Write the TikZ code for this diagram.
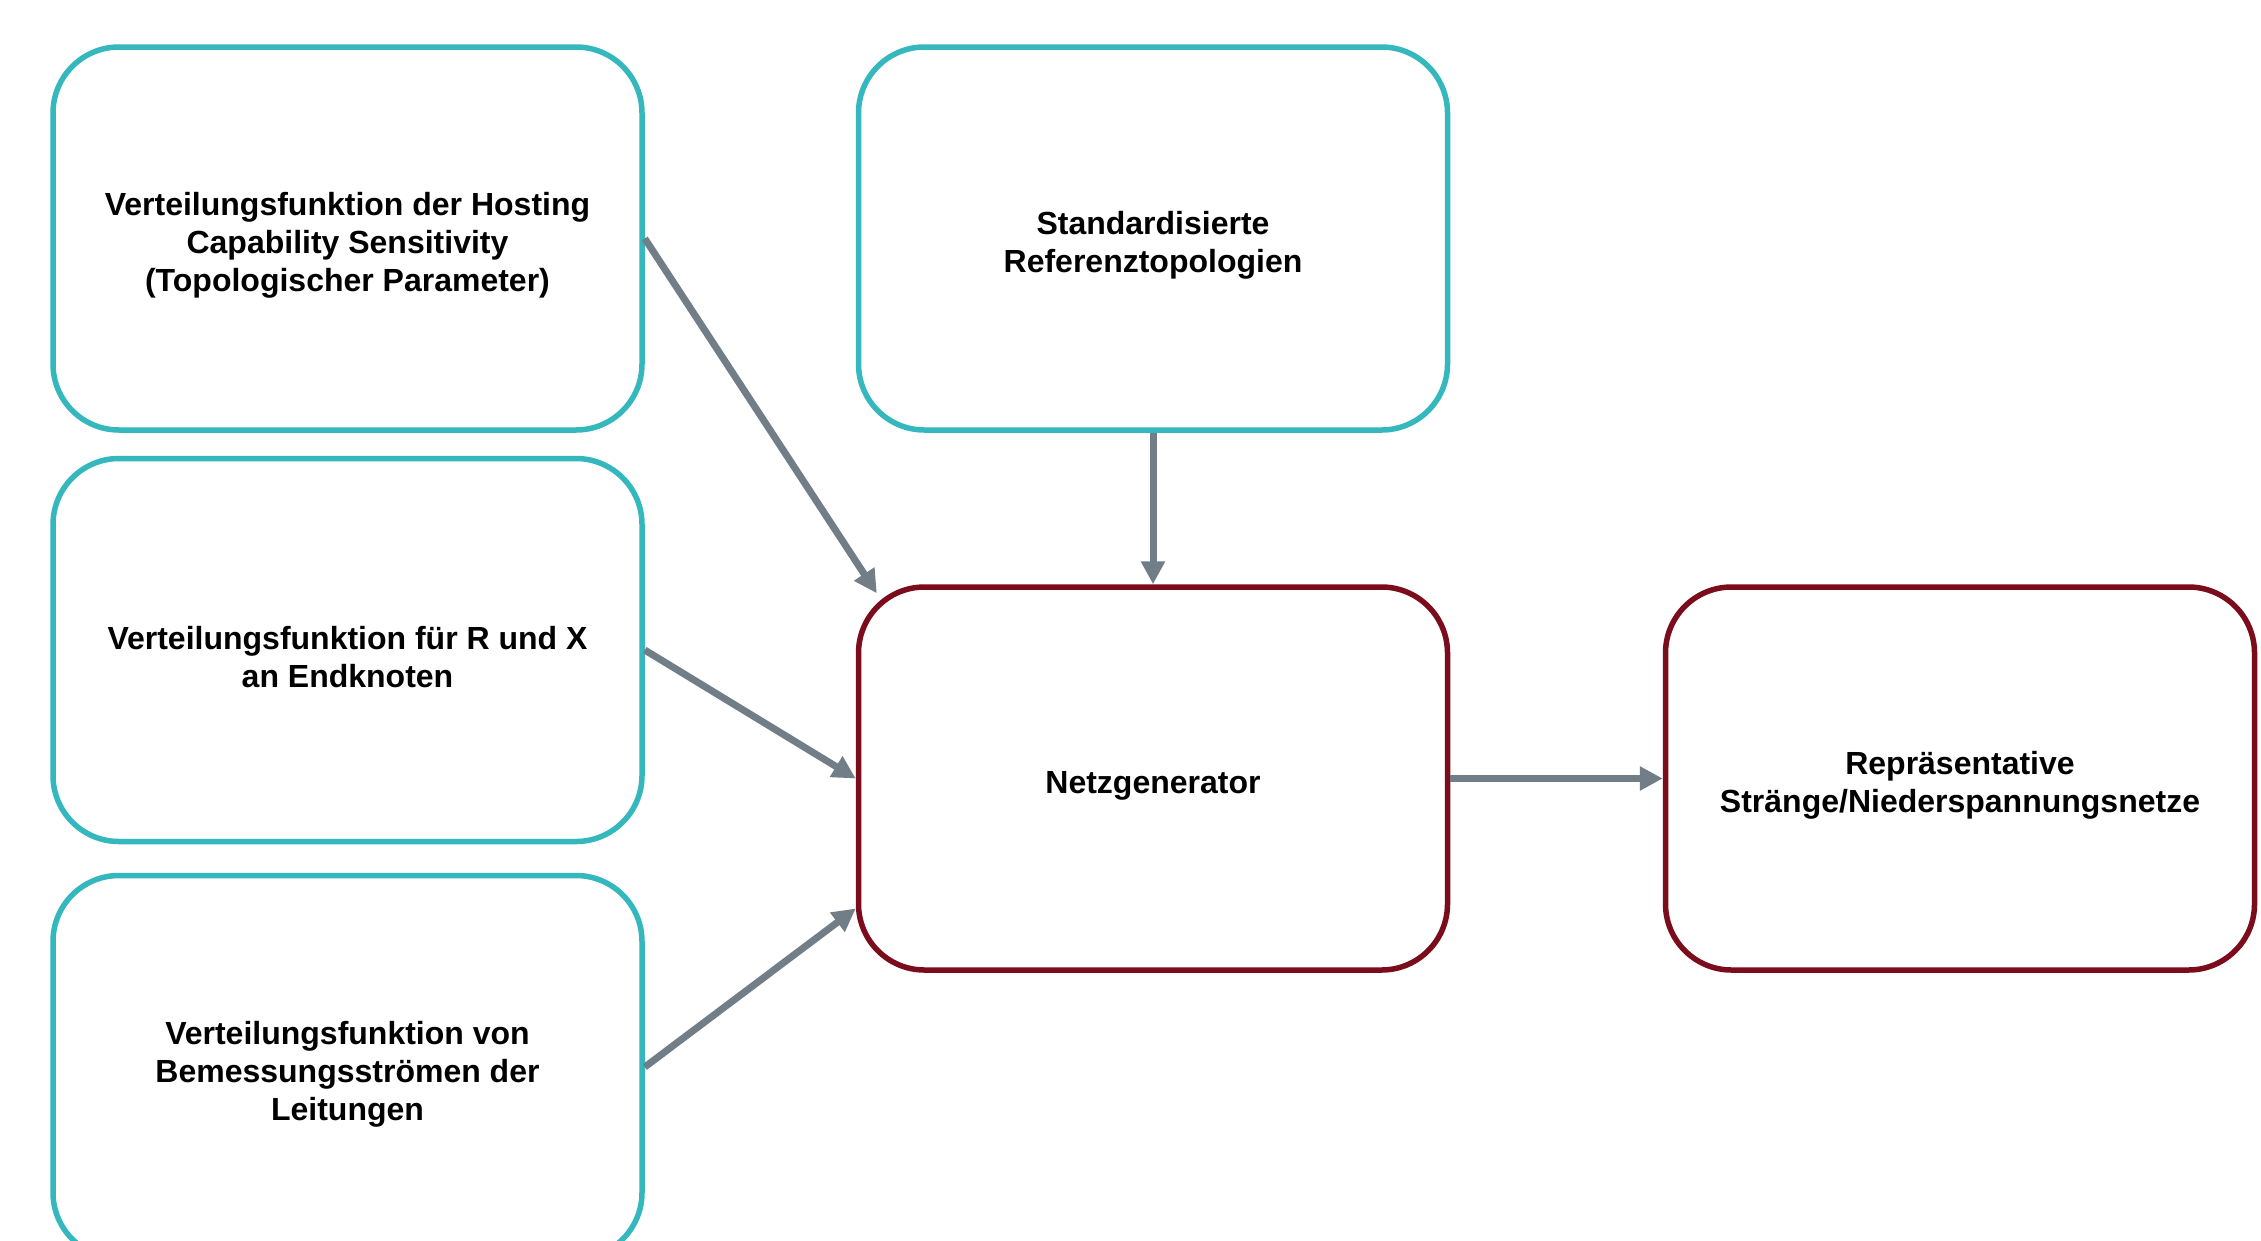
\documentclass[tikz,border=0pt]{standalone}
\usepackage{fontspec}
\setmainfont{Liberation Sans}
\usetikzlibrary{arrows.meta,calc}
\definecolor{tealc}{RGB}{52,184,190}
\definecolor{darkred}{RGB}{122,12,28}
\definecolor{arrgray}{RGB}{113,126,136}
\tikzset{
  box/.style={draw, line width=5.5pt, rounded corners=66pt, minimum width=589pt, minimum height=383pt,
    inner sep=0pt, fill=white},
  inbox/.style={box, draw=tealc},
  outbox/.style={box, draw=darkred},
  boxtext/.style={align=center, inner sep=0pt, yshift=-7pt, font=\bfseries\fontsize{32}{38}\selectfont},
  conn/.style={draw=arrgray, line width=7pt, -{Triangle[length=23pt,width=23pt]}}
}
\begin{document}
\begin{tikzpicture}[x=1pt,y=-1pt]
\useasboundingbox (0,0) rectangle (2261,1240);
\fill[white] (0,0) rectangle (2261,1240);
\node[inbox, label={[boxtext]center:{Verteilungsfunktion der Hosting\\Capability Sensitivity\\(Topologischer Parameter)}}] (A) at (347.5,238.5) {};
\node[inbox, label={[boxtext]center:{Verteilungsfunktion für R und X\\an Endknoten}}] (B) at (347.5,650) {};
\node[inbox, label={[boxtext]center:{Verteilungsfunktion von\\Bemessungsströmen der\\Leitungen}}] (C) at (347.5,1067) {};
\node[inbox, label={[boxtext]center:{Standardisierte\\Referenztopologien}}] (D) at (1153,238.5) {};
\node[outbox, label={[boxtext]center:{Netzgenerator}}] (E) at (1153,778.5) {};
\node[outbox, label={[boxtext]center:{Repräsentative\\Stränge/Niederspannungsnetze}}] (F) at (1960,778.5) {};
\coordinate (Ecorner) at ($(E.north west)+(21,9)$);
\coordinate (Elow) at ($(E.west)+(0,130)$);
\draw[conn] (A.east) -- (Ecorner);
\draw[conn] (B.east) -- (E.west);
\draw[conn] (C.east) -- (Elow);
\draw[conn] (D.south) -- (E.north);
\draw[conn] (E.east) -- (F.west);
\end{tikzpicture}
\end{document}
